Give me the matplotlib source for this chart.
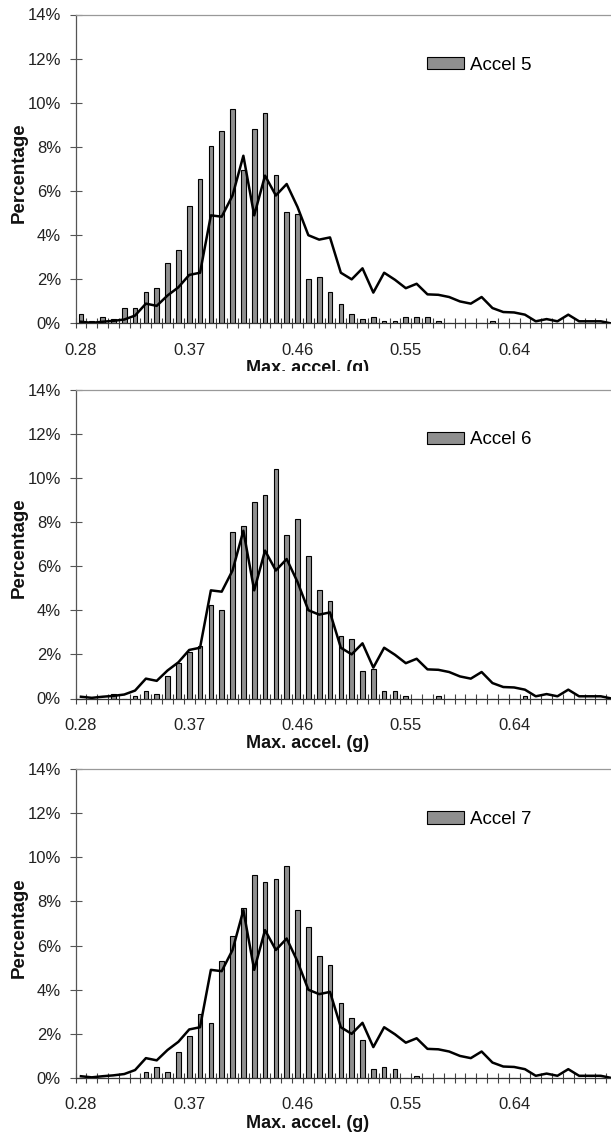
import matplotlib
matplotlib.use("Agg")
import matplotlib.pyplot as plt
from matplotlib.patches import Rectangle

plt.rcParams['font.family'] = ['Liberation Sans', 'DejaVu Sans']

# bin starts of the max. acceleration histogram (g)
accel_bins = [0.280, 0.289, 0.298, 0.307, 0.316, 0.325, 0.334, 0.343, 0.352, 0.361,
              0.370, 0.379, 0.388, 0.397, 0.406, 0.415, 0.424, 0.433, 0.442, 0.451,
              0.460, 0.469, 0.478, 0.487, 0.496, 0.505, 0.514, 0.523, 0.532, 0.541,
              0.550, 0.559, 0.568, 0.577, 0.586, 0.595, 0.604, 0.613, 0.622, 0.631,
              0.640, 0.649, 0.658, 0.667, 0.676, 0.685, 0.694, 0.703, 0.712, 0.721]

# reference distribution (same curve on every panel), %
reference_pct = [0.08, 0.03, 0.08, 0.12, 0.18, 0.36, 0.9, 0.8, 1.27, 1.64,
                 2.2, 2.3, 4.9, 4.84, 5.8, 7.6, 4.9, 6.7, 5.8, 6.32,
                 5.28, 4.0, 3.8, 3.9, 2.3, 2.0, 2.5, 1.4, 2.3, 1.98,
                 1.6, 1.8, 1.32, 1.3, 1.2, 1.0, 0.9, 1.2, 0.7, 0.52,
                 0.5, 0.4, 0.1, 0.2, 0.1, 0.4, 0.1, 0.1, 0.1, 0.0]

accel5_pct = [0.41, 0.12, 0.3, 0.2, 0.71, 0.71, 1.42, 1.62, 2.72, 3.32,
              5.33, 6.54, 8.02, 8.73, 9.73, 6.97, 8.82, 9.52, 6.74, 5.03,
              4.94, 2.02, 2.12, 1.42, 0.9, 0.41, 0.22, 0.3, 0.12, 0.12,
              0.3, 0.3, 0.3, 0.12, 0, 0, 0, 0, 0.12, 0,
              0, 0, 0, 0, 0, 0, 0, 0, 0, 0]

accel6_pct = [0, 0, 0, 0.2, 0, 0.1, 0.32, 0.2, 1.0, 1.6,
              2.1, 2.4, 4.23, 4.0, 7.53, 7.8, 8.92, 9.23, 10.4, 7.4,
              8.14, 6.44, 4.92, 4.4, 2.83, 2.71, 1.23, 1.32, 0.32, 0.32,
              0.1, 0, 0, 0.1, 0, 0, 0, 0, 0, 0,
              0, 0.1, 0, 0, 0, 0, 0, 0, 0, 0]

accel7_pct = [0, 0, 0, 0, 0, 0, 0.29, 0.5, 0.29, 1.2,
              1.9, 2.88, 2.5, 5.3, 6.42, 7.71, 9.21, 8.9, 9.0, 9.6,
              7.6, 6.85, 5.53, 5.1, 3.4, 2.7, 1.71, 0.41, 0.52, 0.41,
              0, 0.1, 0, 0, 0, 0, 0, 0, 0, 0,
              0, 0, 0, 0, 0, 0, 0, 0, 0, 0]

panels = [("Accel 5", accel5_pct), ("Accel 6", accel6_pct), ("Accel 7", accel7_pct)]
y_ticks = [0, 2, 4, 6, 8, 10, 12, 14]

W, H = 611, 1144
fig = plt.figure(figsize=(W / 100, H / 100), dpi=100)

ax_left = 75.5
cat_w = 10.83
n = len(accel_bins)
axis_bottoms = [323.5, 698.5, 1078]   # pixel row of the 0% line
plot_h = 309.0

x = list(range(n))
for (name, values), y0 in zip(panels, axis_bottoms):
    ax = fig.add_axes([ax_left / W, 1 - y0 / H, n * cat_w / W, plot_h / H])
    ax.bar(x, values, width=0.43, color='#8f8f8f', edgecolor='black',
           linewidth=0.8, label=name, zorder=2)
    ax.plot(x, reference_pct, color='black', linewidth=1.8, zorder=3)

    ax.set_xlim(-0.5, n - 0.5)
    ax.set_ylim(0, 14)

    # labels on every 10th bin, tick marks on bin boundaries
    ax.set_xticks(x[::10])
    ax.set_xticklabels(['%.2f' % accel_bins[i] for i in x[::10]])
    ax.set_xticks([i - 0.5 for i in range(n + 1)], minor=True)
    ax.tick_params(axis='x', which='major', length=0, pad=14, labelsize=12,
                   labelcolor='#222222')
    ax.tick_params(axis='x', which='minor', direction='inout', length=7,
                   width=0.8, color='#444444')

    ax.set_yticks(y_ticks)
    ax.set_yticklabels(['%d%%' % v for v in y_ticks])
    ax.tick_params(axis='y', direction='inout', length=9, width=0.8,
                   color='#555555', pad=6, labelsize=12, labelcolor='#222222')

    ax.spines['right'].set_visible(False)
    ax.spines['top'].set_color('#999999')
    ax.spines['left'].set_color('#555555')
    ax.spines['bottom'].set_color('#333333')
    for s in ax.spines.values():
        s.set_linewidth(0.9)

    top = y0 - plot_h
    fig.text(19.5 / W, 1 - (y0 - plot_h / 2 + 4) / H, 'Percentage', rotation=90,
             ha='center', va='center', fontsize=13.5, fontweight='bold',
             color='#111111')
    fig.text(307.5 / W, 1 - (y0 + 45) / H, 'Max. accel. (g)', ha='center',
             va='center', fontsize=13, fontweight='bold', color='#111111')

    ax.legend(loc='center left', bbox_to_anchor=(427 / W, 1 - (top + 50.5) / H),
              bbox_transform=fig.transFigure, frameon=False, fontsize=13.5,
              handlelength=1.95, handleheight=0.65, handletextpad=0.33,
              borderpad=0, borderaxespad=0)

# the top panel's axis title is trimmed by the panel below it
fig.patches.append(Rectangle((0, 1 - 381 / H), 1, 10 / H, transform=fig.transFigure,
                             facecolor='white', edgecolor='none', zorder=10))

fig.savefig('out.png', dpi=100)
